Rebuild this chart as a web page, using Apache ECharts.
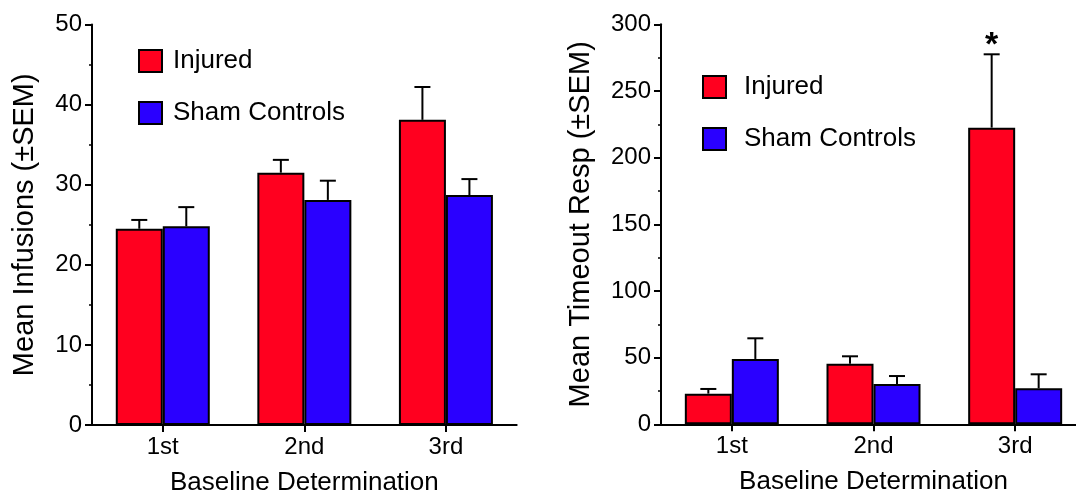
<!DOCTYPE html>
<html>
<head>
<meta charset="utf-8">
<script src="https://cdn.jsdelivr.net/npm/echarts@6/dist/echarts.min.js"></script>
<style>html,body{margin:0;padding:0;background:#fff;overflow:hidden;}#c{width:1100px;height:494px;}</style>
</head>
<body>
<div id="c"></div>
<script>
// ---- data ----
var categories = ['1st', '2nd', '3rd'];
var seriesNames = ['Injured', 'Sham Controls'];
// Left panel: Mean Infusions
var infInjured = [24.5, 31.5, 38.1];
var infInjuredSem = [1.1, 1.6, 4.1];
var infSham = [24.8, 28.1, 28.7];
var infShamSem = [2.4, 2.4, 2.0];
// Right panel: Mean Timeout Resp
var toInjured = [23, 45.5, 222.5];
var toInjuredSem = [3.5, 5.5, 55];
var toSham = [49, 30.2, 27];
var toShamSem = [15.5, 6, 10.5];
var toSignif = ['', '', '*'];
var leftTicks = {min: 0, max: 50, interval: 10};
var rightTicks = {min: 0, max: 300, interval: 50};

var RED = '#ff001f', BLUE = '#2a00ff';
var FONT = 'Liberation Sans, Arial, Helvetica, sans-serif';
var BARW = 47;

var chart = echarts.init(document.getElementById('c'), null, {renderer: 'canvas'});

function yAxis(idx, name, t, gap) {
  return {
    type: 'value', gridIndex: idx, min: t.min, max: t.max, interval: t.interval,
    name: name, nameLocation: 'middle', nameGap: gap, nameRotate: 90,
    nameTextStyle: {fontFamily: FONT, fontSize: 29, color: '#000'},
    axisLine: {show: true, lineStyle: {color: '#000', width: 2}},
    axisTick: {show: true, length: 7, lineStyle: {color: '#000', width: 2}},
    minorTick: {show: true, splitNumber: 2, length: 3, lineStyle: {color: '#000', width: 1.5}},
    splitLine: {show: false},
    axisLabel: {fontFamily: FONT, fontSize: 24, color: '#000', margin: 10}
  };
}
function xAxis(idx) {
  return {
    type: 'category', gridIndex: idx, data: categories,
    name: 'Baseline Determination', nameLocation: 'middle', nameGap: 45,
    nameTextStyle: {fontFamily: FONT, fontSize: 26, color: '#000'},
    axisLine: {show: true, lineStyle: {color: '#000', width: 2}},
    axisTick: {show: true, alignWithLabel: true, length: 7, lineStyle: {color: '#000', width: 2}},
    axisLabel: {fontFamily: FONT, fontSize: 24, color: '#000', margin: 10}
  };
}
function barSeries(name, data, color, gi) {
  return {
    type: 'bar', name: name, data: data, xAxisIndex: gi, yAxisIndex: gi,
    barWidth: BARW, barGap: '0%',
    itemStyle: {color: color, borderColor: '#000', borderWidth: 2},
    z: 2
  };
}
function errSeries(means, sems, side, gi, signif) {
  var data = means.map(function (m, i) { return [i, m, sems[i], signif ? signif[i] : '']; });
  return {
    type: 'custom', xAxisIndex: gi, yAxisIndex: gi, z: 5, silent: true,
    data: data,
    renderItem: function (params, api) {
      var i = api.value(0), m = api.value(1), s = api.value(2);
      var p0 = api.coord([i, m]);
      var p1 = api.coord([i, m + s]);
      var x = p0[0] + side * BARW / 2;
      var cap = 8;
      var children = [
        {type: 'line', shape: {x1: x, y1: p0[1], x2: x, y2: p1[1]}, style: {stroke: '#000', lineWidth: 2}},
        {type: 'line', shape: {x1: x - cap, y1: p1[1], x2: x + cap, y2: p1[1]}, style: {stroke: '#000', lineWidth: 2}}
      ];
      var mark = data[params.dataIndex][3];
      if (mark) {
        children.push({type: 'text', x: x, y: p1[1] - 9,
          style: {text: mark, fontFamily: FONT, fontWeight: 'bold', fontSize: 34, fill: '#000', align: 'center', verticalAlign: 'middle'}});
      }
      return {type: 'group', children: children};
    }
  };
}
function legend(left, top, pad) {
  return {
    left: left, top: top, orient: 'vertical', itemWidth: 23, itemHeight: 22, itemGap: 26,
    icon: 'rect', data: seriesNames,
    itemStyle: {borderColor: '#000', borderWidth: 2},
    textStyle: {fontFamily: FONT, fontSize: 26, color: '#000', padding: [0, 0, 0, pad]},
    selectedMode: false
  };
}

chart.setOption({
  animation: false,
  backgroundColor: '#fff',
  legend: [legend(133, 43, 6), legend(697, 69, 13)],
  grid: [
    {left: 92, top: 24.5, width: 424.7, height: 400.5, outerBoundsMode: 'none', containLabel: false},
    {left: 661, top: 24.3, width: 425, height: 400, outerBoundsMode: 'none', containLabel: false}
  ],
  xAxis: [xAxis(0), xAxis(1)],
  yAxis: [yAxis(0, 'Mean Infusions (±SEM)', leftTicks, 53), yAxis(1, 'Mean Timeout Resp (±SEM)', rightTicks, 66)],
  series: [
    barSeries('Injured', infInjured, RED, 0),
    barSeries('Sham Controls', infSham, BLUE, 0),
    errSeries(infInjured, infInjuredSem, -1, 0),
    errSeries(infSham, infShamSem, 1, 0),
    barSeries('Injured', toInjured, RED, 1),
    barSeries('Sham Controls', toSham, BLUE, 1),
    errSeries(toInjured, toInjuredSem, -1, 1, toSignif),
    errSeries(toSham, toShamSem, 1, 1)
  ]
});
</script>
</body>
</html>
